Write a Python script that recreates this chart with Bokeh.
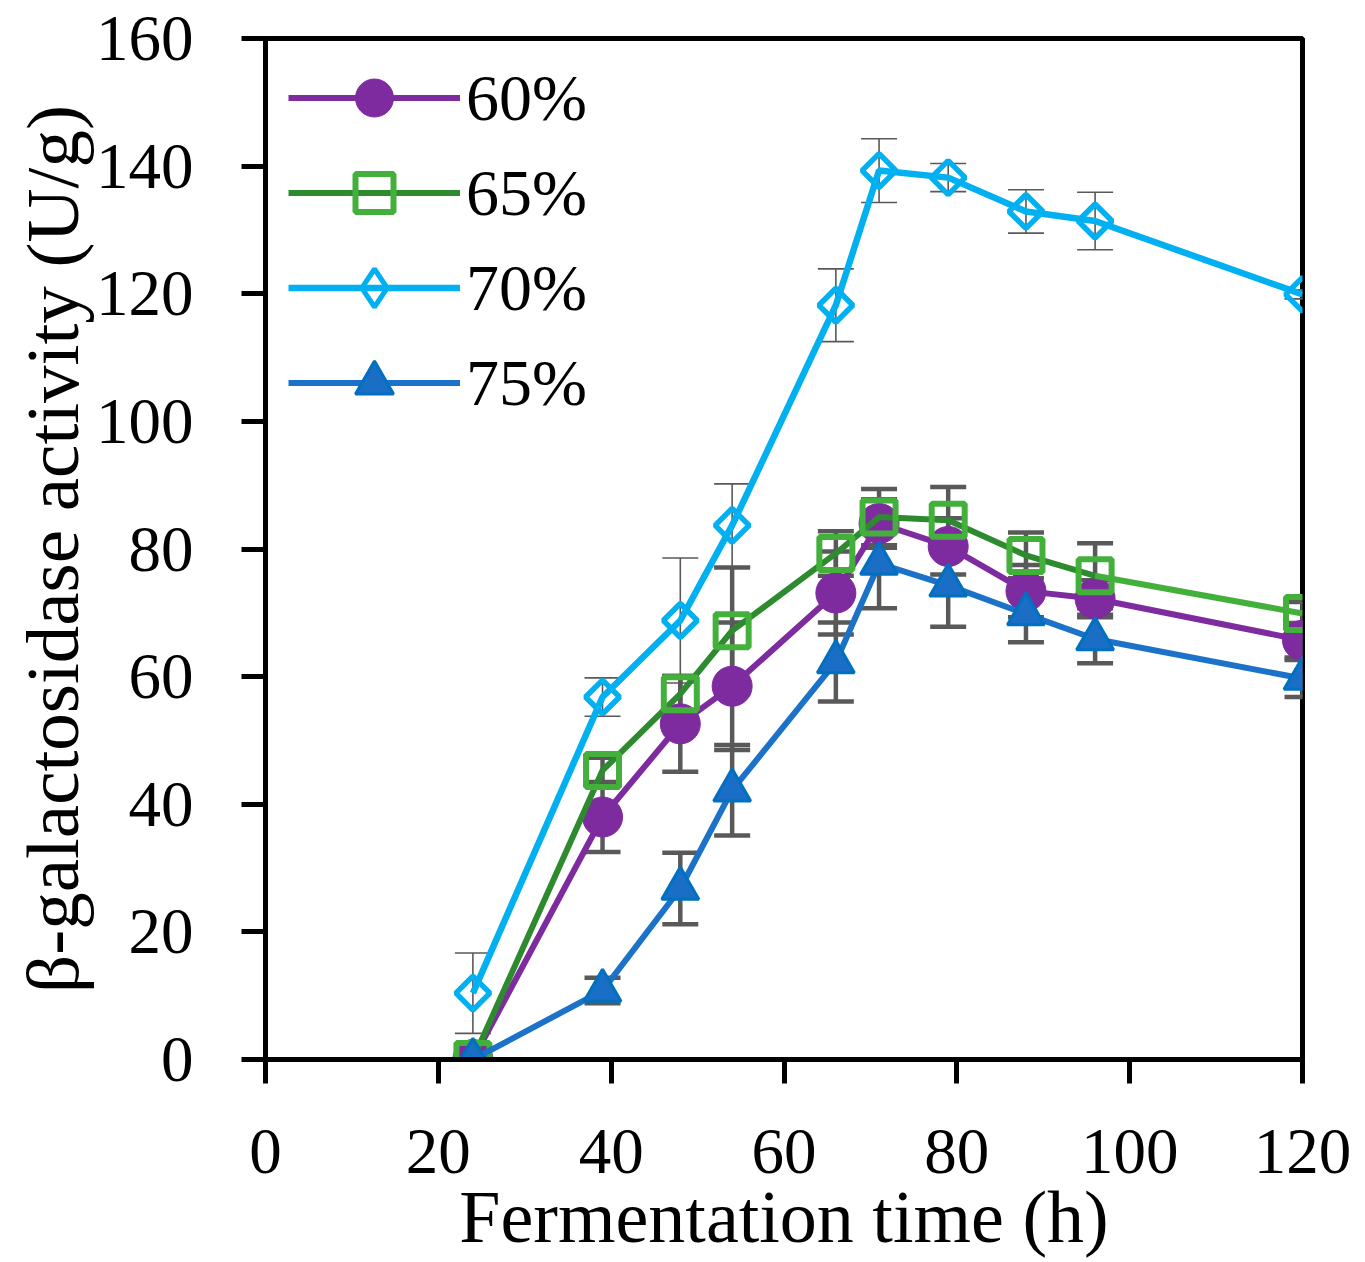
import math
from bokeh.plotting import figure
from bokeh.models import (ColumnDataSource, Whisker, TeeHead, Range1d, FixedTicker,
                          Legend, LegendItem)
from bokeh.embed import file_html
from bokeh.resources import INLINE

# ---- data ----
hours = [24, 39, 48, 54, 66, 71, 79, 88, 96, 120]

act_60 = [0.0, 38.0, 52.6, 58.5, 73.1, 84.0, 80.4, 73.4, 72.2, 65.7]
err_60 = [0.0, 5.5, 7.5, 10.0, 6.5, 3.8, 4.4, 4.1, 2.9, 2.7]

act_65 = [0.0, 45.3, 57.3, 67.2, 79.3, 85.0, 84.5, 79.0, 75.8, 69.9]
err_65 = [0.0, 2.0, 2.8, 9.9, 3.5, 4.4, 5.2, 3.6, 5.1, 1.8]

act_70 = [10.4, 56.8, 68.8, 83.7, 118.2, 139.3, 138.2, 132.9, 131.4, 119.9]
err_70 = [6.3, 3.0, 9.8, 6.5, 5.7, 5.0, 2.2, 3.4, 4.5, 0.7]

act_75 = [0.0, 10.8, 26.8, 42.2, 62.3, 77.7, 74.3, 69.8, 65.9, 59.7]
err_75 = [0.0, 2.0, 5.6, 7.1, 6.2, 7.0, 6.5, 4.4, 3.8, 2.9]

series_labels = ["60%", "65%", "70%", "75%"]
x_ticks = [0, 20, 40, 60, 80, 100, 120]
y_ticks = [0, 20, 40, 60, 80, 100, 120, 140, 160]
x_title = "Fermentation time (h)"
y_title = "\u03b2-galactosidase activity (U/g)"

# ---- styles ----
FONT = "Liberation Serif"
C60 = "#7E2BA0"
C65_LINE = "#2E8A2E"
C65_MARK = "#44B03C"
C70 = "#00B0F0"
C75_LINE = "#1B72C8"
C75_FILL = "#1A6EC5"
C75_EDGE = "#0070C0"
ERR = "#595959"

p = figure(frame_width=1037, frame_height=1021,
           x_range=Range1d(0, 120), y_range=Range1d(0, 160),
           output_backend="svg", toolbar_location=None,
           min_border_left=265, min_border_top=38,
           min_border_right=50, min_border_bottom=180)
p.background_fill_color = "white"
p.border_fill_color = "white"
p.grid.visible = False
p.outline_line_color = "black"
p.outline_line_width = 5

for ax in (p.xaxis[0], p.yaxis[0]):
    ax.axis_line_width = 5
    ax.axis_line_color = "black"
    ax.major_tick_line_width = 5
    ax.major_tick_line_color = "black"
    ax.major_tick_out = 24
    ax.major_tick_in = 0
    ax.minor_tick_line_color = None
    ax.major_label_text_font = FONT
    ax.major_label_text_font_size = "65px"
    ax.major_label_text_color = "black"
    ax.axis_label_text_font = FONT
    ax.axis_label_text_font_style = "normal"
    ax.axis_label_text_color = "black"

p.xaxis.ticker = FixedTicker(ticks=x_ticks)
p.yaxis.ticker = FixedTicker(ticks=y_ticks)
p.xaxis.axis_label = x_title
p.yaxis.axis_label = y_title
p.xaxis.axis_label_text_font_size = "74px"
p.yaxis.axis_label_text_font_size = "75px"
p.xaxis.major_label_standoff = 46
p.yaxis.major_label_standoff = 48
p.xaxis.axis_label_standoff = 0
p.yaxis.axis_label_standoff = -1


def add_err(vals, errs, width):
    src = ColumnDataSource(dict(
        x=hours,
        lower=[v - e for v, e in zip(vals, errs)],
        upper=[v + e for v, e in zip(vals, errs)],
    ))
    w = Whisker(source=src, base="x", lower="lower", upper="upper",
                line_color=ERR, line_width=width,
                upper_head=TeeHead(size=36, line_color=ERR, line_width=width),
                lower_head=TeeHead(size=36, line_color=ERR, line_width=width))
    p.add_layout(w)


# 60%
add_err(act_60, err_60, 4.5)
l60 = p.line(hours, act_60, line_color=C60, line_width=6)
m60 = p.scatter(hours, act_60, marker="circle", size=40,
                fill_color=C60, line_color=C60, line_width=1)

# 65%
add_err(act_65, err_65, 4.5)
l65 = p.line(hours[:9], act_65[:9], line_color=C65_LINE, line_width=6)
p.line(hours[8:], act_65[8:], line_color=C65_MARK, line_width=6)
m65 = p.scatter(hours, act_65, marker="square", size=33,
                fill_color=None, line_color=C65_MARK, line_width=6)

# 70%
add_err(act_70, err_70, 1.6)
l70 = p.line(hours, act_70, line_color=C70, line_width=6.5)
p.scatter(hours, act_70, marker="square", size=24, angle=math.pi / 4,
          fill_color=None, line_color=C70, line_width=5.5)
m70_leg = p.scatter([float("nan")], [float("nan")], marker="diamond", size=36,
                    fill_color=None, line_color=C70, line_width=5)

# 75%
add_err(act_75, err_75, 4.5)
l75 = p.line(hours, act_75, line_color=C75_LINE, line_width=6)
m75 = p.scatter(hours, act_75, marker="triangle", size=37,
                fill_color=C75_FILL, line_color=C75_EDGE, line_width=3)

legend = Legend(items=[
    LegendItem(label=series_labels[0], renderers=[l60, m60]),
    LegendItem(label=series_labels[1], renderers=[l65, m65]),
    LegendItem(label=series_labels[2], renderers=[l70, m70_leg]),
    LegendItem(label=series_labels[3], renderers=[l75, m75]),
], location=(23, 629))
legend.margin = 0
legend.padding = 0
legend.spacing = 0
legend.glyph_width = 172
legend.glyph_height = 95
legend.label_height = 95
legend.label_standoff = 6
legend.label_text_font = FONT
legend.label_text_font_size = "66px"
legend.label_text_color = "black"
legend.border_line_color = None
legend.background_fill_alpha = 0
p.add_layout(legend)

open("out.html", "w").write(file_html(p, INLINE))
